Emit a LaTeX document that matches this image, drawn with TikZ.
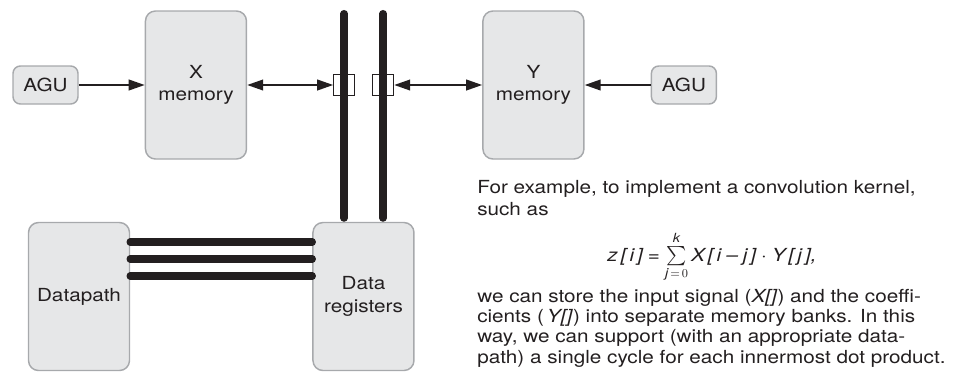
\documentclass[tikz,border=0pt]{standalone}
\usepackage{amsmath}
\usepackage{fontspec}
\setmainfont{TeX Gyre Heros}[FakeStretch=1.15]
\usepackage{xcolor}
\definecolor{cFill}{HTML}{E6E7E8}
\definecolor{cEdge}{HTML}{A7A9AC}
\definecolor{cInk}{HTML}{231F20}
\usepackage{tikz}
\usetikzlibrary{positioning,arrows.meta}
\tikzset{
  node-block/.style={draw=cEdge,line width=1.1pt,fill=cFill,rounded corners=7.5pt,
    minimum width=75.75pt,minimum height=111pt,inner sep=0pt,align=center,
    text=cInk,font=\fontsize{13.5}{17}\selectfont},
  node-agu/.style={node-block,rounded corners=5.5pt,
    minimum width=48.75pt,minimum height=28.5pt},
  node-port/.style={draw=cInk,line width=0.75pt,fill=white,
    minimum size=15.75pt,inner sep=0pt},
  arrow/.style={-{Triangle[length=12pt,width=8pt]},line width=1.4pt,draw=cInk},
  arrow-both/.style={{Triangle[length=12pt,width=8pt]}-{Triangle[length=12pt,width=8pt]},
    line width=1.4pt,draw=cInk},
  bus/.style={line width=5.6pt,draw=cInk,line cap=round},
  note/.style={inner sep=0pt,align=left,text=cInk,font=\fontsize{13.5}{16.5}\selectfont},
}

\begin{document}
\begin{tikzpicture}[x=0.75pt,y=-0.75pt]
  \useasboundingbox (0,0) rectangle (955,390);
  % memories and address units
  \node[node-agu] (agu-x) at (45.5,85) {AGU};
  \node[node-block,right=49.5pt of agu-x] (mem-x) {X\\memory};
  \node[node-port,right=64.5pt of mem-x] (port-x) {};
  \node[node-port,right=12.75pt of port-x] (port-y) {};
  \node[node-block,right=66pt of port-y] (mem-y) {Y\\memory};
  \node[node-agu,right=49.5pt of mem-y] (agu-y) {AGU};
  % datapath and registers
  \node[node-block] (dpath) at (79,296.5) {Datapath};
  \node[node-block,right=136.5pt of dpath] (dreg) {Data\\registers};
  \coordinate (bus-top) at (0,13.7);

  \draw[arrow] (agu-x) -- (mem-x);
  \draw[arrow-both] (mem-x) -- (port-x);
  \draw[arrow-both] (port-y) -- (mem-y);
  \draw[arrow] (agu-y) -- (mem-y);
  \foreach \p in {port-x,port-y}
    \draw[bus,shorten >=2.8pt] (\p |- bus-top) -- (\p |- dreg.north);
  \foreach \dy in {15.4,28.1,40.9}
    \draw[bus] ([yshift=\dy pt]dpath.east) -- ([yshift=\dy pt]dreg.west);

  % text (base = last line)
  \node[note,anchor=base west] (intro) at (477,215)
    {For example, to implement a convolution kernel,\\such as};
  \node[note,anchor=base] (conv) at (712,261)
    {\itshape z\,[\,i\,]\;=\;$\sum\limits_{\text{\itshape j}\,=\,0}^{\text{\itshape k}}$\,X\,[\,i\;–\;j\,]\;·\;Y\,[\,j\,],};
  \node[note,anchor=base west,font=\fontsize{13.5}{15.25}\selectfont] (para) at (477,363)
    {we can store the input signal (\textit{X[]}) and the coeffi-\\
     cients (\,\textit{Y[]}) into separate memory banks. In this\\
     way, we can support (with an appropriate data-\\
     path) a single cycle for each innermost dot product.};
\end{tikzpicture}
\end{document}
